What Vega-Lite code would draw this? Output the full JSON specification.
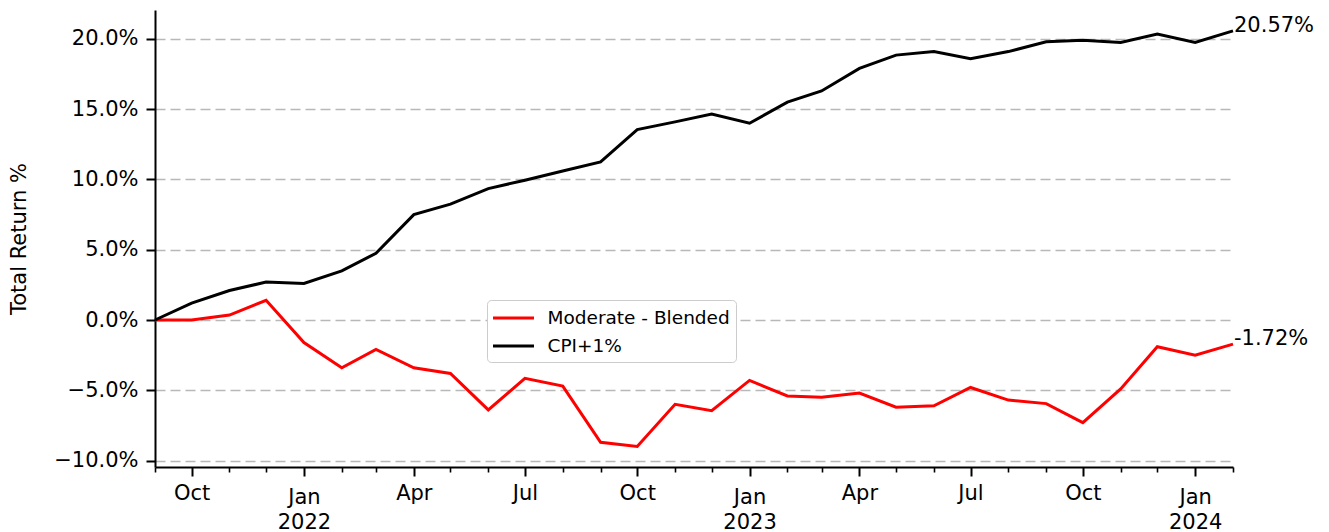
{
  "$schema": "https://vega.github.io/schema/vega-lite/v6.json",
  "width": 1078,
  "height": 457,
  "autosize": {"type": "none"},
  "padding": {"left": 155, "top": 10, "right": 96, "bottom": 65},
  "background": "white",
  "config": {
    "font": "DejaVu Sans",
    "view": {"stroke": null},
    "axis": {"labelFont": "DejaVu Sans", "titleFont": "DejaVu Sans", "labelColor": "#000", "titleColor": "#000", "titleFontWeight": "normal"}
  },
  "data": {
    "values": [
      {"date": "2021-09-01", "series": "Moderate - Blended", "value": 0},
      {"date": "2021-10-01", "series": "Moderate - Blended", "value": 0},
      {"date": "2021-11-01", "series": "Moderate - Blended", "value": 0.35},
      {"date": "2021-12-01", "series": "Moderate - Blended", "value": 1.4},
      {"date": "2022-01-01", "series": "Moderate - Blended", "value": -1.6},
      {"date": "2022-02-01", "series": "Moderate - Blended", "value": -3.4},
      {"date": "2022-03-01", "series": "Moderate - Blended", "value": -2.1},
      {"date": "2022-04-01", "series": "Moderate - Blended", "value": -3.4},
      {"date": "2022-05-01", "series": "Moderate - Blended", "value": -3.8},
      {"date": "2022-06-01", "series": "Moderate - Blended", "value": -6.4},
      {"date": "2022-07-01", "series": "Moderate - Blended", "value": -4.15},
      {"date": "2022-08-01", "series": "Moderate - Blended", "value": -4.7},
      {"date": "2022-09-01", "series": "Moderate - Blended", "value": -8.7},
      {"date": "2022-10-01", "series": "Moderate - Blended", "value": -9.0},
      {"date": "2022-11-01", "series": "Moderate - Blended", "value": -6.0},
      {"date": "2022-12-01", "series": "Moderate - Blended", "value": -6.45},
      {"date": "2023-01-01", "series": "Moderate - Blended", "value": -4.3},
      {"date": "2023-02-01", "series": "Moderate - Blended", "value": -5.4},
      {"date": "2023-03-01", "series": "Moderate - Blended", "value": -5.5},
      {"date": "2023-04-01", "series": "Moderate - Blended", "value": -5.2},
      {"date": "2023-05-01", "series": "Moderate - Blended", "value": -6.2},
      {"date": "2023-06-01", "series": "Moderate - Blended", "value": -6.1},
      {"date": "2023-07-01", "series": "Moderate - Blended", "value": -4.8},
      {"date": "2023-08-01", "series": "Moderate - Blended", "value": -5.7},
      {"date": "2023-09-01", "series": "Moderate - Blended", "value": -5.95},
      {"date": "2023-10-01", "series": "Moderate - Blended", "value": -7.3},
      {"date": "2023-11-01", "series": "Moderate - Blended", "value": -4.9},
      {"date": "2023-12-01", "series": "Moderate - Blended", "value": -1.9},
      {"date": "2024-01-01", "series": "Moderate - Blended", "value": -2.5},
      {"date": "2024-02-01", "series": "Moderate - Blended", "value": -1.72},
      {"date": "2021-09-01", "series": "CPI+1%", "value": 0},
      {"date": "2021-10-01", "series": "CPI+1%", "value": 1.2},
      {"date": "2021-11-01", "series": "CPI+1%", "value": 2.1},
      {"date": "2021-12-01", "series": "CPI+1%", "value": 2.7},
      {"date": "2022-01-01", "series": "CPI+1%", "value": 2.6},
      {"date": "2022-02-01", "series": "CPI+1%", "value": 3.5},
      {"date": "2022-03-01", "series": "CPI+1%", "value": 4.75},
      {"date": "2022-04-01", "series": "CPI+1%", "value": 7.5},
      {"date": "2022-05-01", "series": "CPI+1%", "value": 8.25},
      {"date": "2022-06-01", "series": "CPI+1%", "value": 9.35},
      {"date": "2022-07-01", "series": "CPI+1%", "value": 9.95},
      {"date": "2022-08-01", "series": "CPI+1%", "value": 10.6},
      {"date": "2022-09-01", "series": "CPI+1%", "value": 11.25},
      {"date": "2022-10-01", "series": "CPI+1%", "value": 13.55},
      {"date": "2022-11-01", "series": "CPI+1%", "value": 14.1},
      {"date": "2022-12-01", "series": "CPI+1%", "value": 14.65},
      {"date": "2023-01-01", "series": "CPI+1%", "value": 14.0},
      {"date": "2023-02-01", "series": "CPI+1%", "value": 15.5},
      {"date": "2023-03-01", "series": "CPI+1%", "value": 16.3},
      {"date": "2023-04-01", "series": "CPI+1%", "value": 17.9},
      {"date": "2023-05-01", "series": "CPI+1%", "value": 18.85},
      {"date": "2023-06-01", "series": "CPI+1%", "value": 19.1},
      {"date": "2023-07-01", "series": "CPI+1%", "value": 18.6},
      {"date": "2023-08-01", "series": "CPI+1%", "value": 19.1},
      {"date": "2023-09-01", "series": "CPI+1%", "value": 19.8},
      {"date": "2023-10-01", "series": "CPI+1%", "value": 19.9},
      {"date": "2023-11-01", "series": "CPI+1%", "value": 19.75},
      {"date": "2023-12-01", "series": "CPI+1%", "value": 20.35},
      {"date": "2024-01-01", "series": "CPI+1%", "value": 19.75},
      {"date": "2024-02-01", "series": "CPI+1%", "value": 20.57}
    ]
  },
  "layer": [
    {
      "mark": {"type": "line", "opacity": 0},
      "encoding": {
        "x": {
          "field": "date", "type": "temporal",
          "scale": {"type": "utc", "domain": [{"year": 2021, "month": "sep", "date": 1, "utc": true}, {"year": 2024, "month": "feb", "date": 1, "utc": true}], "nice": false},
          "axis": {
            "orient": "bottom",
            "values": [
              {"year": 2021, "month": "sep", "date": 1, "utc": true},
              {"year": 2021, "month": "nov", "date": 1, "utc": true},
              {"year": 2021, "month": "dec", "date": 1, "utc": true},
              {"year": 2022, "month": "feb", "date": 1, "utc": true},
              {"year": 2022, "month": "mar", "date": 1, "utc": true},
              {"year": 2022, "month": "may", "date": 1, "utc": true},
              {"year": 2022, "month": "jun", "date": 1, "utc": true},
              {"year": 2022, "month": "aug", "date": 1, "utc": true},
              {"year": 2022, "month": "sep", "date": 1, "utc": true},
              {"year": 2022, "month": "nov", "date": 1, "utc": true},
              {"year": 2022, "month": "dec", "date": 1, "utc": true},
              {"year": 2023, "month": "feb", "date": 1, "utc": true},
              {"year": 2023, "month": "mar", "date": 1, "utc": true},
              {"year": 2023, "month": "may", "date": 1, "utc": true},
              {"year": 2023, "month": "jun", "date": 1, "utc": true},
              {"year": 2023, "month": "aug", "date": 1, "utc": true},
              {"year": 2023, "month": "sep", "date": 1, "utc": true},
              {"year": 2023, "month": "nov", "date": 1, "utc": true},
              {"year": 2023, "month": "dec", "date": 1, "utc": true},
              {"year": 2024, "month": "feb", "date": 1, "utc": true}
            ],
            "labels": false, "domain": false, "grid": false, "title": null,
            "tickSize": 5, "tickWidth": 1.6, "tickColor": "#000"
          }
        },
        "y": {"field": "value", "type": "quantitative", "scale": {"domain": [-10.46, 22.06], "nice": false, "zero": false}, "axis": null}
      }
    },
    {
      "mark": {"type": "line", "strokeWidth": 3},
      "encoding": {
        "x": {
          "field": "date", "type": "temporal",
          "axis": {
            "orient": "bottom",
            "values": [
              {"year": 2021, "month": "oct", "date": 1, "utc": true},
              {"year": 2022, "month": "jan", "date": 1, "utc": true},
              {"year": 2022, "month": "apr", "date": 1, "utc": true},
              {"year": 2022, "month": "jul", "date": 1, "utc": true},
              {"year": 2022, "month": "oct", "date": 1, "utc": true},
              {"year": 2023, "month": "jan", "date": 1, "utc": true},
              {"year": 2023, "month": "apr", "date": 1, "utc": true},
              {"year": 2023, "month": "jul", "date": 1, "utc": true},
              {"year": 2023, "month": "oct", "date": 1, "utc": true},
              {"year": 2024, "month": "jan", "date": 1, "utc": true}
            ],
            "labelExpr": "utcmonth(datum.value) == 0 ? [utcFormat(datum.value, '%b'), utcFormat(datum.value, '%Y')] : utcFormat(datum.value, '%b')",
            "labelFontSize": 21,
            "labelBaseline": "top",
            "labelLineHeight": 25,
            "labelPadding": {"condition": {"test": "utcmonth(datum.value) == 0", "value": 10}, "value": 6},
            "labelFlush": false,
            "labelOverlap": false,
            "grid": false,
            "title": null,
            "tickSize": 9, "tickWidth": 2, "tickColor": "#000",
            "domain": true, "domainColor": "#000", "domainWidth": 2
          }
        },
        "y": {
          "field": "value", "type": "quantitative",
          "axis": {
            "values": [-10, -5, 0, 5, 10, 15, 20],
            "labelExpr": "replace(format(datum.value, '.1f'), '-', '\u2212') + '%'",
            "labelFontSize": 21,
            "labelPadding": 8,
            "tickSize": 9, "tickWidth": 2, "tickColor": "#000",
            "domain": true, "domainColor": "#000", "domainWidth": 2,
            "grid": true, "gridDash": [10, 5], "gridColor": "#b8b8b8", "gridWidth": 1.6,
            "title": "Total Return %",
            "titleFontSize": 21,
            "titlePadding": 24
          }
        },
        "color": {
          "field": "series", "type": "nominal",
          "scale": {"domain": ["Moderate - Blended", "CPI+1%"], "range": ["#ff0000", "#000000"]},
          "legend": {
            "title": null,
            "orient": "none",
            "legendX": 332,
            "legendY": 290,
            "direction": "vertical",
            "symbolType": "M-2,0H2",
            "symbolSize": 420,
            "symbolStrokeWidth": 3,
            "symbolOffset": 8.5,
            "labelOffset": 22,
            "labelFontSize": 18.5,
            "labelLimit": 400,
            "labelFont": "DejaVu Sans",
            "labelColor": "#000",
            "rowPadding": 6,
            "padding": 6,
            "strokeColor": "#cccccc",
            "fillColor": "white",
            "cornerRadius": 4
          }
        }
      }
    },
    {
      "transform": [
        {"filter": "utcyear(datum.date) == 2024 && utcmonth(datum.date) == 1"},
        {"calculate": "replace(format(datum.value, '.2f'), '\u2212', '-') + '%'", "as": "label"}
      ],
      "mark": {"type": "text", "align": "left", "baseline": "alphabetic", "dx": 1, "dy": 1, "fontSize": 21, "color": "#000"},
      "encoding": {
        "x": {"field": "date", "type": "temporal", "axis": null},
        "y": {"field": "value", "type": "quantitative", "axis": null},
        "text": {"field": "label"}
      }
    }
  ],
  "resolve": {"axis": {"x": "independent", "y": "independent"}}
}
